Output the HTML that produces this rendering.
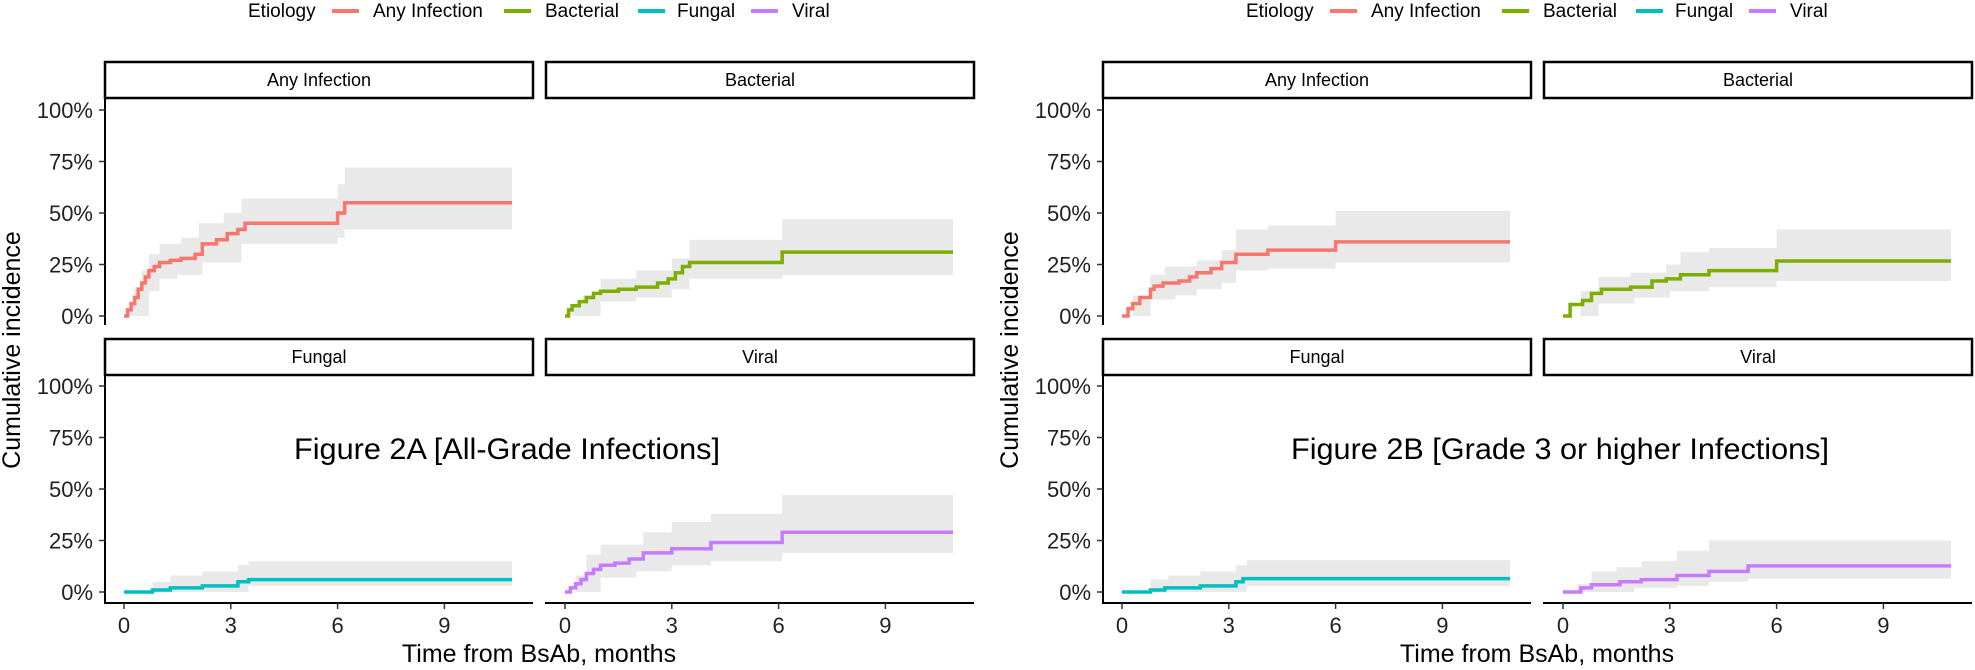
<!DOCTYPE html>
<html><head><meta charset="utf-8"><style>
html,body{margin:0;padding:0;background:#fff}
svg{display:block}
text{font-family:"Liberation Sans",Arial,sans-serif}
</style></head><body>
<svg id="s" width="1975" height="670" xmlns="http://www.w3.org/2000/svg"></svg>
<script>
const S=document.getElementById('s');let h='';
const C={a:'#F8766D',b:'#7CAE00',f:'#00BFC4',v:'#C77CFF'};
const PM=35.6,END=10.9;
function step(pts,x0,y0){let d='';pts.forEach((p,i)=>{const x=x0+p[0]*PM,y=y0-p[1]*2.06;if(i==0)d+='M'+x+','+y;else d+='H'+x+'V'+y;});d+='H'+(x0+END*PM);return d;}
function sv(arr,m){let v=arr[0][1];for(const p of arr){if(p[0]<=m+1e-9)v=p[1];}return v;}
function band(up,lo,x0,y0){const ts=[...new Set([...up.map(p=>p[0]),...lo.map(p=>p[0]),END])].sort((a,b)=>a-b);
let top='',bot=[];for(let i=0;i<ts.length-1;i++){const a=ts[i],b=ts[i+1];const u=y0-sv(up,a)*2.06,l=y0-sv(lo,a)*2.06;const xa=x0+a*PM,xb=x0+b*PM;top+=(i?'L':'M')+xa+','+u+'L'+xb+','+u;bot.unshift('L'+xb+','+l+'L'+xa+','+l);}
return top+bot.join('')+'Z';}
function panel(ox,col,row,name,key,line,up,lo){
 const sx=ox+(col?546:105),sw=428,st=row?339:62;const x0=ox+(col?565:124),y0=row?592:316;
 h+=`<path d="${band(up,lo,x0,y0)}" fill="#e9e9e9"/>`;
 h+=`<path d="${step(line,x0,y0)}" fill="none" stroke="${C[key]}" stroke-width="3.5"/>`;
 h+=`<rect x="${sx}" y="${st}" width="${sw}" height="36" fill="#fff" stroke="#000" stroke-width="2.5"/>`;
 h+=`<text x="${sx+sw/2}" y="${st+24}" font-size="18" text-anchor="middle">${name}</text>`;
 const pb=row?603:325,pt=st+36;
 if(col==0){h+=`<line x1="${sx}" y1="${pt}" x2="${sx}" y2="${pb}" stroke="#000" stroke-width="2"/>`;
  [0,25,50,75,100].forEach(p=>{const y=y0-p*2.06;h+=`<line x1="${sx-6}" y1="${y}" x2="${sx}" y2="${y}" stroke="#333" stroke-width="1.5"/><text x="${sx-12}" y="${y+8}" font-size="22" text-anchor="end" fill="#222">${p}%</text>`;});}
 if(row==1){h+=`<line x1="${sx-1}" y1="${pb}" x2="${sx+sw}" y2="${pb}" stroke="#000" stroke-width="2"/>`;
  [0,3,6,9].forEach(m=>{const x=x0+m*PM;h+=`<line x1="${x}" y1="${pb}" x2="${x}" y2="${pb+6}" stroke="#333" stroke-width="1.5"/><text x="${x}" y="${pb+30}" font-size="22" text-anchor="middle" fill="#222">${m}</text>`;});}
}
function legend(ox){
 h+=`<text x="${ox+248}" y="17" font-size="19">Etiology</text>`;
 [['a',332,'Any Infection',373],['b',504,'Bacterial',545],['f',638,'Fungal',677],['v',751,'Viral',792]].forEach(l=>{
  h+=`<line x1="${ox+l[1]}" y1="11" x2="${ox+l[1]+27}" y2="11" stroke="${C[l[0]]}" stroke-width="4"/><text x="${ox+l[3]}" y="17" font-size="19">${l[2]}</text>`;});
 h+=`<text x="${ox+539}" y="662" font-size="25" text-anchor="middle">Time from BsAb, months</text>`;
 h+=`<text transform="translate(${ox+20},350) rotate(-90)" font-size="25" text-anchor="middle">Cumulative incidence</text>`;
}
legend(0);
panel(0,0,0,'Any Infection','a',[[0,0],[0.1,3],[0.2,6],[0.3,9],[0.4,13],[0.5,16],[0.6,19],[0.7,22],[0.85,24],[1.0,26],[1.3,27],[1.6,28],[2.0,30],[2.2,35],[2.6,37],[2.9,40],[3.2,42],[3.4,45],[6.0,50],[6.2,55]],
 [[0,0],[0.15,7],[0.3,14],[0.5,22],[0.7,30],[1.0,35],[1.6,38],[2.1,45],[2.8,50],[3.3,57],[6.0,64],[6.2,72]],
 [[0,0],[0.7,12],[1.0,18],[1.5,20],[2.2,26],[3.3,35],[6.0,38],[6.2,42]]);
panel(0,1,0,'Bacterial','b',[[0,0],[0.1,3],[0.2,5],[0.4,7],[0.6,9],[0.8,11],[1.0,12],[1.5,13],[2.0,14],[2.6,16],[2.9,18],[3.1,21],[3.3,24],[3.5,26],[6.1,31]],
 [[0,0],[0.2,6],[0.5,10],[1,18],[2,22],[3,28],[3.5,37],[6.1,47]],[[0,0],[1,7],[2,9],[3,13],[3.5,18],[6.1,20]]);
panel(0,0,1,'Fungal','f',[[0,0],[0.8,1],[1.3,2],[2.2,3],[3.2,5],[3.5,6]],
 [[0,0],[0.8,5],[1.3,8],[2.2,10],[3.2,13],[3.5,15]],[[0,0],[3.5,3]]);
panel(0,1,1,'Viral','v',[[0,0],[0.15,2],[0.3,4],[0.45,6],[0.6,9],[0.8,11],[1.0,13],[1.4,14],[1.8,16],[2.2,19],[3.0,21],[4.1,24],[6.1,29]],
 [[0,0],[0.3,8],[0.6,18],[1,23],[2.2,29],[3,34],[4.1,38],[6.1,47]],[[0,0],[1,7],[2,10],[3,13],[4.1,15],[6.1,19]]);
h+=`<text x="507" y="459" font-size="30" text-anchor="middle" textLength="426" lengthAdjust="spacingAndGlyphs">Figure 2A [All-Grade Infections]</text>`;
const B=998;legend(B);
panel(B,0,0,'Any Infection','a',[[0,0],[0.17,3.5],[0.3,6],[0.5,9],[0.8,13],[0.9,14.5],[1.15,16],[1.6,17],[1.9,19],[2.1,21],[2.5,23],[2.8,26],[3.2,30],[4.1,32],[6.0,36]],
 [[0,0],[0.3,10],[0.8,20],[1.2,24],[2.1,27],[2.8,32],[3.2,42],[4.1,44],[6.0,51]],[[0,0],[0.8,8],[1.5,10],[2.1,13],[2.8,16],[3.2,22],[4.1,23],[6.0,26]]);
panel(B,1,0,'Bacterial','b',[[0,0],[0.2,5.6],[0.55,7.5],[0.8,11],[1.08,13],[1.9,14],[2.5,17],[2.9,18],[3.3,20],[4.1,22],[6.0,26.7]],
 [[0,0],[0.5,12],[1,19],[1.9,21],[2.9,25],[3.3,31],[4.1,33],[6.0,42]],[[0,0],[1,6],[2,9],[3,12],[4.1,14],[6,17]]);
panel(B,0,1,'Fungal','f',[[0,0],[0.8,1],[1.2,2],[2.2,3],[3.2,5],[3.4,6.5]],
 [[0,0],[0.8,6],[1.3,8],[2.2,10],[3.2,13],[3.5,15.5]],[[0,0],[3.5,3]]);
panel(B,1,1,'Viral','v',[[0,0],[0.5,2],[0.8,3.5],[1.6,5],[2.2,6],[3.2,8],[4.1,10],[5.2,12.7]],
 [[0,0],[0.4,4],[0.8,10],[1.5,12],[2.2,15],[3.2,20],[4.1,25],[5.2,25]],[[0,0],[2,2],[3.2,3],[4.1,5],[5.2,6.5]]);
h+=`<text x="1560" y="459" font-size="30" text-anchor="middle" textLength="538" lengthAdjust="spacingAndGlyphs">Figure 2B [Grade 3 or higher Infections]</text>`;
S.innerHTML=h;
</script>
</body></html>
